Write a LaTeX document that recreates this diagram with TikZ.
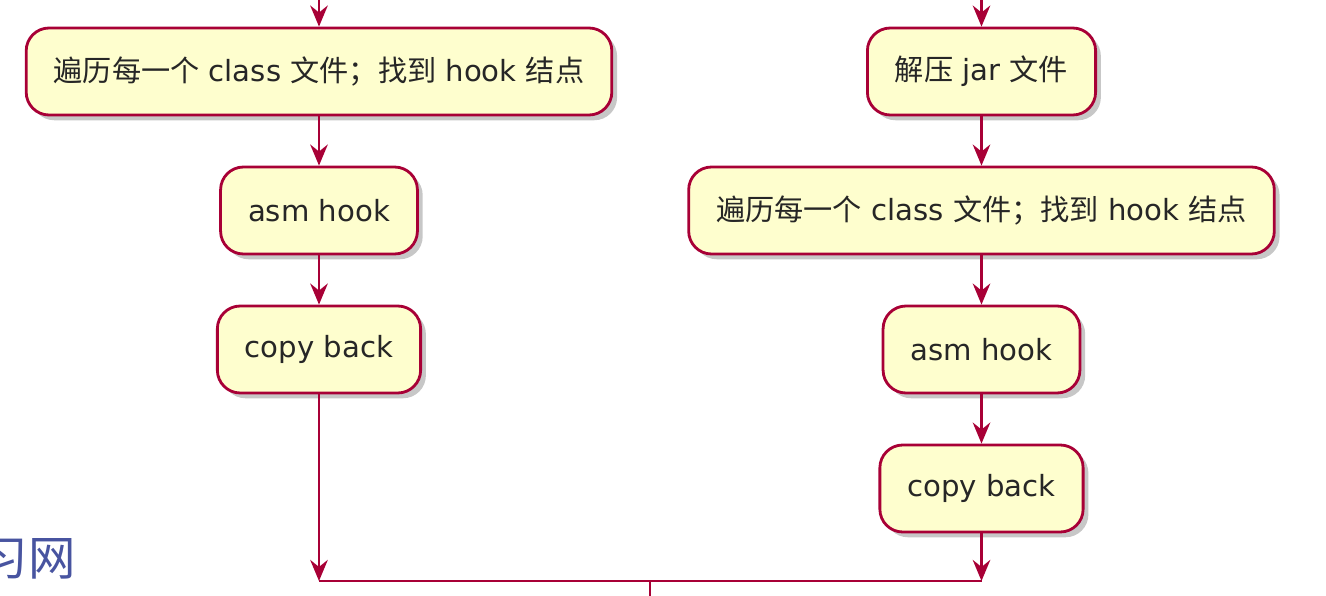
\documentclass[tikz,border=0pt]{standalone}
\usepackage{fontspec}
\setmainfont{DejaVu Sans}
\newfontfamily\cjk{Noto Sans CJK SC}
\usetikzlibrary{arrows.meta}
\usetikzlibrary{shadows}
\usetikzlibrary{calc}
\definecolor{umlred}{RGB}{168,0,54}
\definecolor{umlfill}{RGB}{254,254,206}
\definecolor{wmblue}{RGB}{72,84,160}

\tikzset{
  action/.style={draw=umlred, fill=umlfill, line width=1.6pt, rounded corners=13pt,
    minimum height=1.74cm, inner xsep=0.55cm, text=black!85,
    font=\fontsize{16.6}{19}\selectfont,
    drop shadow={shadow xshift=3pt, shadow yshift=-3pt, fill=black, opacity=0.22}},
  flow/.style={draw=umlred, line width=1.4pt, -{Stealth[length=12pt,width=10pt,inset=4pt]}},
  mergeline/.style={draw=umlred, line width=1.4pt}
}

\begin{document}
\begin{tikzpicture}

% Frame
\useasboundingbox (0,0) rectangle (26.52,-11.92);

\def\colL{6.38}   % left branch
\def\colR{19.63}  % right branch
\def\rowA{-1.43}
\def\rowB{-4.21}
\def\rowC{-6.99}
\def\rowD{-9.77}
\def\yJoin{-11.62}

% Left branch
\node[action] (scanL) at (\colL,\rowA) {{\cjk 遍历每一个} class {\cjk 文件；找到} hook {\cjk 结点}};
\node[action] (asmL)  at (\colL,\rowB) {asm hook};
\node[action] (copyL) at (\colL,\rowC) {copy back};

% Right branch
\node[action] (unzip) at (\colR,\rowA) {{\cjk 解压} jar {\cjk 文件}};
\node[action] (scanR) at (\colR,\rowB) {{\cjk 遍历每一个} class {\cjk 文件；找到} hook {\cjk 结点}};
\node[action] (asmR)  at (\colR,\rowC) {asm hook};
\node[action] (copyR) at (\colR,\rowD) {copy back};

% Incoming and join points
\coordinate (inL) at (\colL,0);
\coordinate (inR) at (\colR,0);
\coordinate (joinL) at (\colL,\yJoin);
\coordinate (joinR) at (\colR,\yJoin);
\coordinate (joinM) at ($(joinL)!0.5!(joinR)$);
\coordinate (out) at ($(joinM)+(0,-0.4)$);

% Arrows
\draw[flow] (inL) -- (scanL);
\draw[flow] (scanL) -- (asmL);
\draw[flow] (asmL) -- (copyL);
\draw[flow] (copyL) -- (joinL);

\draw[flow] (inR) -- (unzip);
\draw[flow] (unzip) -- (scanR);
\draw[flow] (scanR) -- (asmR);
\draw[flow] (asmR) -- (copyR);
\draw[flow] (copyR) -- (joinR);

\draw[mergeline] (joinL) -- (joinR);
\draw[mergeline] (joinM) -- (out);

% Watermark
\node[anchor=base east, inner sep=0, text=wmblue, font=\cjk\fontsize{27}{27}\selectfont] (mark) at (1.52,-11.5) {习网};

\end{tikzpicture}
\end{document}
